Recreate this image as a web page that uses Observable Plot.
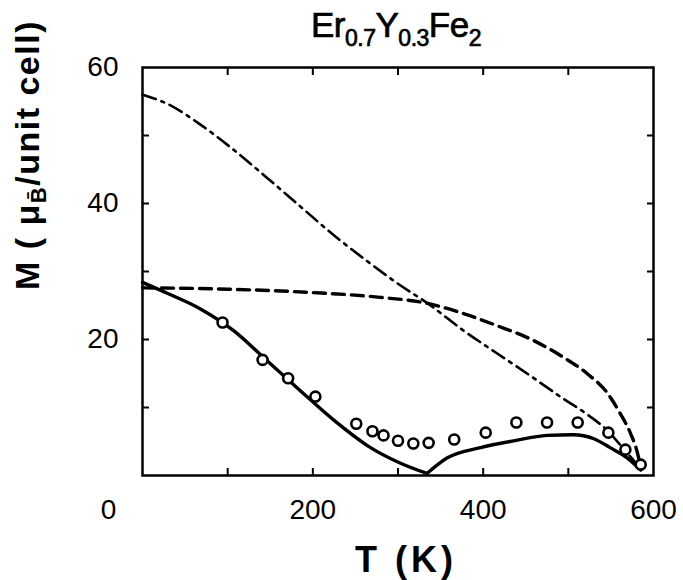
<!DOCTYPE html>
<html>
<head>
<meta charset="utf-8">
<script src="https://cdn.jsdelivr.net/npm/d3@7"></script>
<script src="https://cdn.jsdelivr.net/npm/@observablehq/plot@0.6"></script>
<style>
  body { margin: 0; background: white; }
  #chart svg { display: block; }
</style>
</head>
<body>
<div id="chart"></div>
<script>
// Temperature (K) / magnetization (muB per unit cell)
const dashDotT = [0, 30, 68, 107, 146, 185, 225, 264, 300, 335, 377, 417, 455, 494, 522, 546, 565, 585];
const dashDotM = [56, 54.6, 51.6, 47.9, 43.8, 39.6, 35.3, 31.5, 28.2, 25.3, 21.3, 17.9, 14.7, 11.3, 9.0, 6.6, 3.9, 1.0];

const dashedT = [0, 100, 200, 279, 335, 377, 417, 455, 494, 522, 546, 561, 573, 581, 585];
const dashedM = [27.6, 27.4, 26.9, 26.2, 25.3, 23.8, 22.0, 20.1, 17.4, 15.0, 12.1, 9.1, 6.2, 3.4, 1.2];

const solidLowT = [0, 29, 68, 107, 146, 185, 225, 264, 303, 334];
const solidLowM = [28.4, 26.8, 24.5, 21.3, 16.9, 12.5, 8.1, 4.4, 1.8, 0.3];

const solidHighT = [334, 358, 397, 436, 475, 506, 530, 549, 569, 585];
const solidHighM = [0.3, 2.6, 4.1, 5.1, 5.9, 6.0, 5.4, 4.1, 2.6, 0.8];

const expT = [94, 141, 171, 203, 251, 270, 283, 300, 318, 336, 366, 403, 439, 475, 511, 547, 567, 585];
const expM = [22.5, 17, 14.3, 11.6, 7.6, 6.5, 5.9, 5.1, 4.7, 4.8, 5.3, 6.3, 7.8, 7.8, 7.8, 6.3, 3.8, 1.6];

const xMinorTicks = [100, 200, 300, 400, 500];
const yMinorTicks = [10, 20, 30, 40, 50];
const xTickLabels = [0, 200, 400, 600];
const yTickLabels = [20, 40, 60];

const rows = (T, M) => T.map((t, i) => ({T: t, M: M[i]}));

const font = "'Liberation Sans', Arial, sans-serif";

const plot = Plot.plot({
  width: 683,
  height: 580,
  marginLeft: 142,
  marginRight: 30,
  marginTop: 67,
  marginBottom: 105,
  style: {fontFamily: font, background: "white", color: "black"},
  x: {domain: [0, 600]},
  y: {domain: [0, 60]},
  marks: [
    Plot.line(rows(dashDotT, dashDotM), {x: "T", y: "M", curve: "monotone-x", stroke: "black", strokeWidth: 2.6, strokeDasharray: "14,6,3,6"}),
    Plot.line(rows(dashedT, dashedM), {x: "T", y: "M", curve: "monotone-x", stroke: "black", strokeWidth: 3.4, strokeDasharray: "12,7"}),
    Plot.line(rows(solidLowT, solidLowM), {x: "T", y: "M", curve: "monotone-x", stroke: "black", strokeWidth: 3.4}),
    Plot.line(rows(solidHighT, solidHighM), {x: "T", y: "M", curve: "monotone-x", stroke: "black", strokeWidth: 3.4}),
    Plot.dot(rows(expT, expM), {x: "T", y: "M", r: 5, stroke: "black", fill: "white", strokeWidth: 2.6}),
    Plot.axisX(xMinorTicks, {anchor: "bottom", tickSize: -7, tickFormat: () => "", label: null, strokeWidth: 2}),
    Plot.axisX(xMinorTicks, {anchor: "top", tickSize: -7, tickFormat: () => "", label: null, strokeWidth: 2}),
    Plot.axisY(yMinorTicks, {anchor: "left", tickSize: -7, tickFormat: () => "", label: null, strokeWidth: 2}),
    Plot.axisY(yMinorTicks, {anchor: "right", tickSize: -7, tickFormat: () => "", label: null, strokeWidth: 2}),
    Plot.axisX(xTickLabels.slice(1), {anchor: "bottom", tickSize: 0, tickPadding: 24, fontSize: 28, label: null}),
    Plot.axisX(xTickLabels.slice(0, 1), {anchor: "bottom", tickSize: 0, tickPadding: 24, fontSize: 28, label: null, dx: -34}),
    Plot.axisY(yTickLabels, {anchor: "left", tickSize: 0, tickPadding: 24, fontSize: 28, label: null}),
    Plot.frame({stroke: "black", strokeWidth: 2.5})
  ]
});

document.getElementById("chart").appendChild(plot);

const svg = d3.select(plot);

// Title with subscripts
const title = svg.append("text")
  .attr("x", 396).attr("y", 37)
  .attr("text-anchor", "middle")
  .attr("font-family", font)
  .attr("font-size", 35)
  .attr("letter-spacing", -0.5)
  .attr("stroke", "black")
  .attr("stroke-width", 0.7)
  .attr("fill", "black");
const parts = [["Er", false], ["0.7", true], ["Y", false], ["0.3", true], ["Fe", false], ["2", true]];
parts.forEach(([t, sub], i) => {
  const prevSub = i > 0 && parts[i - 1][1];
  let dy = 0;
  if (sub && !prevSub) dy = 9;
  if (!sub && prevSub) dy = -9;
  const ts = title.append("tspan").attr("dy", dy).text(t);
  if (sub) ts.attr("font-size", 23);
});

// X axis label
svg.append("text")
  .attr("x", 406).attr("y", 572)
  .attr("text-anchor", "middle")
  .attr("font-family", font)
  .attr("font-weight", "bold")
  .attr("font-size", 36)
  .attr("letter-spacing", 4)
  .attr("fill", "black")
  .text("T (K)");

// Y axis label
const yl = svg.append("text")
  .attr("transform", "translate(39,155) rotate(-90)")
  .attr("text-anchor", "middle")
  .attr("font-family", font)
  .attr("font-weight", "bold")
  .attr("font-size", 34)
  .attr("letter-spacing", 1.5)
  .attr("fill", "black");
yl.append("tspan").text("M ( μ");
yl.append("tspan").attr("font-size", 22).attr("dy", 7).text("B\u0304");
yl.append("tspan").attr("dy", -7).text("/unit cell)");
</script>
</body>
</html>
